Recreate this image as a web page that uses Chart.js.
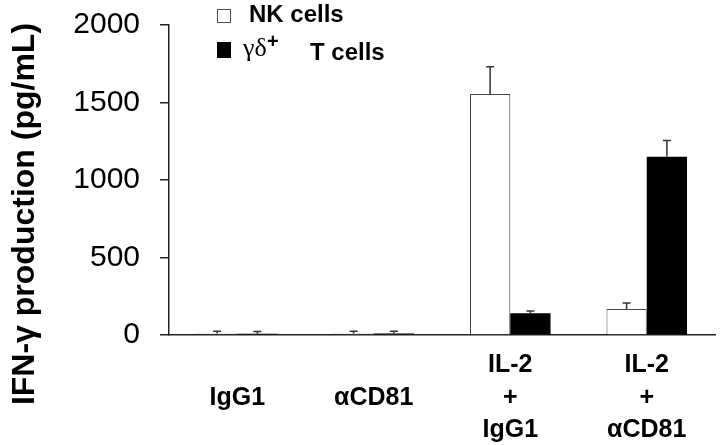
<!DOCTYPE html>
<html>
<head>
<meta charset="utf-8">
<script src="https://cdn.jsdelivr.net/npm/chart.js@4"></script>
<style>
  body { margin: 0; background: #fff; }
  #wrap { width: 720px; height: 445px; }
</style>
</head>
<body>
<div id="wrap"><canvas id="grafico"></canvas></div>
<script>
// categories (multi-line labels, single ones padded so they sit on the middle line)
const grupos = [["", "IgG1", ""], ["", "\u03b1CD81", ""], ["IL-2", "+", "IgG1"], ["IL-2", "+", "\u03b1CD81"]];

// IFN-gamma (pg/mL)
const nkCells = [10, 10, 1555, 168];
const nkErro = [15, 15, 175, 38];
const gdCells = [8, 10, 140, 1150];
const gdErro = [15, 15, 15, 105];

const yTicks = [0, 500, 1000, 1500, 2000];

const fonte = '"Liberation Sans", Arial, sans-serif';

// barras de erro (so pra cima)
const errorBars = {
  id: 'errorBars',
  afterDatasetsDraw(chart) {
    const ctx = chart.ctx;
    const y = chart.scales.y;
    const erros = [nkErro, gdErro];
    ctx.save();
    ctx.strokeStyle = '#333';
    ctx.lineWidth = 1.5;
    chart.data.datasets.forEach((ds, i) => {
      const meta = chart.getDatasetMeta(i);
      meta.data.forEach((bar, j) => {
        const topo = y.getPixelForValue(ds.data[j] + erros[i][j]);
        ctx.beginPath();
        ctx.moveTo(bar.x, bar.y);
        ctx.lineTo(bar.x, topo);
        ctx.moveTo(bar.x - 4, topo);
        ctx.lineTo(bar.x + 4, topo);
        ctx.stroke();
      });
    });
    ctx.restore();
  }
};

// legenda e titulo do eixo y
const textos = {
  id: 'textos',
  afterDraw(chart) {
    const ctx = chart.ctx;
    ctx.save();
    // legenda
    ctx.fillStyle = '#fff';
    ctx.strokeStyle = '#555';
    ctx.lineWidth = 1;
    ctx.fillRect(217.5, 9.5, 13, 13);
    ctx.strokeRect(217.5, 9.5, 13, 13);
    ctx.fillStyle = '#000';
    ctx.fillRect(217, 42, 14, 16);
    ctx.textBaseline = 'alphabetic';
    ctx.textAlign = 'left';
    ctx.font = 'bold 24px ' + fonte;
    ctx.fillText('NK cells', 249, 22);
    ctx.font = '26px "Liberation Serif", serif';
    ctx.fillText('\u03b3\u03b4', 243, 56);
    ctx.font = 'bold 20px ' + fonte;
    ctx.fillText('+', 267, 48);
    ctx.font = 'bold 24px ' + fonte;
    ctx.fillText('T cells', 310, 60);

    // titulo eixo y
    ctx.translate(25, 214);
    ctx.rotate(-Math.PI / 2);
    ctx.textAlign = 'center';
    ctx.textBaseline = 'middle';
    ctx.font = 'bold 32px ' + fonte;
    ctx.fillText('IFN-\u03b3 production (pg/mL)', 0, 0);
    ctx.restore();
  }
};

const ctx = document.getElementById('grafico').getContext('2d');
const grafico = new Chart(ctx, {
  type: 'bar',
  data: {
    labels: grupos,
    datasets: [{
      label: 'NK cells',
      data: nkCells,
      backgroundColor: '#fff',
      borderColor: '#444',
      borderWidth: 1,
      borderSkipped: 'start',
      barPercentage: 1.0,
      categoryPercentage: 0.59
    }, {
      label: '\u03b3\u03b4+ T cells',
      data: gdCells,
      backgroundColor: '#000',
      borderWidth: 0,
      barPercentage: 1.0,
      categoryPercentage: 0.59
    }]
  },
  options: {
    responsive: true,
    maintainAspectRatio: false,
    animation: false,
    layout: { padding: { top: 25, right: 5, left: 0, bottom: 0 } },
    plugins: {
      legend: { display: false },
      tooltip: { enabled: false }
    },
    scales: {
      x: {
        grid: { display: false },
        border: { display: true, color: '#222', width: 1.5 },
        ticks: {
          color: '#000',
          maxRotation: 0,
          padding: 6,
          font: { family: fonte, size: 25, weight: 'bold', lineHeight: 1.3 }
        },
        afterFit(scale) { scale.height = 110; }
      },
      y: {
        min: 0,
        max: 2000,
        afterBuildTicks(scale) { scale.ticks = yTicks.map(v => ({ value: v })); },
        grid: { drawOnChartArea: false, drawTicks: true, tickLength: 9, color: '#222', lineWidth: 1.5 },
        border: { display: true, color: '#222', width: 1.5 },
        ticks: {
          color: '#000',
          padding: 20,
          // lineHeight pequeno so pra nao empurrar a area do grafico pra baixo
          font: { family: fonte, size: 30, lineHeight: 0.2 },
          callback: v => String(v)
        },
        afterFit(scale) { scale.width = 169; }
      }
    }
  },
  plugins: [errorBars, textos]
});
</script>
</body>
</html>
